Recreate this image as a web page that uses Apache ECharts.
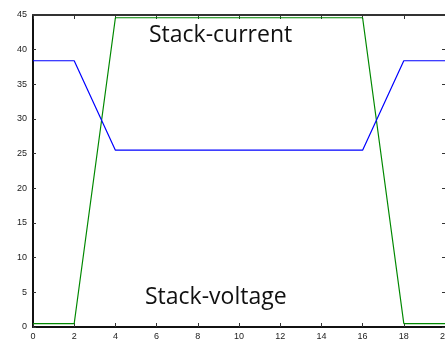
<!DOCTYPE html>
<html><head><meta charset="utf-8">
<script src="https://cdn.jsdelivr.net/npm/echarts@6/dist/echarts.min.js"></script>
<style>html,body{margin:0;padding:0;background:#fff}#c{width:445px;height:342px}</style>
</head><body><div id="c"></div>
<script>
const timeX = [0, 2, 4, 16, 18, 20];
const currentY = [0.5, 0.5, 44.6, 44.6, 0.5, 0.5];
const voltageY = [38.4, 38.4, 25.5, 25.5, 38.4, 38.4];
const xTicks = [0, 2, 4, 6, 8, 10, 12, 14, 16, 18, 20];
const yTicks = [0, 5, 10, 15, 20, 25, 30, 35, 40, 45];
const labelTop = 'Stack-current';
const labelBottom = 'Stack-voltage';

const chart = echarts.init(document.getElementById('c'));
const axLab = {color:'#222', fontSize:9, fontFamily:'Liberation Sans'};
chart.setOption({
  animation:false,
  grid:{left:33, right:0, top:15, bottom:15, containLabel:false, outerBoundsMode:'none'},
  xAxis:[
    {type:'value', min:0, max:20, interval:2, position:'bottom',
     axisLine:{onZero:false, lineStyle:{color:'#111', width:2}},
     axisTick:{inside:true, length:4, lineStyle:{color:'#333'}},
     axisLabel:Object.assign({margin:5}, axLab), splitLine:{show:false}},
    {type:'value', min:0, max:20, interval:2, position:'top',
     axisLine:{onZero:false, lineStyle:{color:'#333', width:2}},
     axisTick:{inside:true, length:4, lineStyle:{color:'#333'}},
     axisLabel:{show:false}, splitLine:{show:false}}
  ],
  yAxis:[
    {type:'value', min:0, max:45, interval:5, position:'left',
     axisLine:{show:true, onZero:false, lineStyle:{color:'#111', width:2}},
     axisTick:{show:true, inside:true, length:3, lineStyle:{color:'#333'}},
     axisLabel:Object.assign({margin:6, formatter:v=>yTicks.includes(v)?String(v):''}, axLab), splitLine:{show:false}},
    {type:'value', min:0, max:45, interval:5, position:'right',
     axisLine:{show:false, onZero:false},
     axisTick:{show:true, inside:true, length:3, lineStyle:{color:'#333'}},
     axisLabel:{show:false}, splitLine:{show:false}}
  ],
  series:[
    {type:'line', name:'current', xAxisIndex:0, yAxisIndex:0, symbol:'none',
     lineStyle:{color:'#008800', width:1.2},
     data:timeX.map((x,i)=>[x,currentY[i]])},
    {type:'line', name:'voltage', xAxisIndex:0, yAxisIndex:0, symbol:'none',
     lineStyle:{color:'#0000ff', width:1.2},
     data:timeX.map((x,i)=>[x,voltageY[i]])}
  ],
  graphic:[
    {type:'text', left:149, top:24, style:{text:labelTop, font:'23px "Open Sans"', fill:'#111'}},
    {type:'text', left:145, top:286, style:{text:labelBottom, font:'23px "Open Sans"', fill:'#111'}}
  ]
});
</script></body></html>
